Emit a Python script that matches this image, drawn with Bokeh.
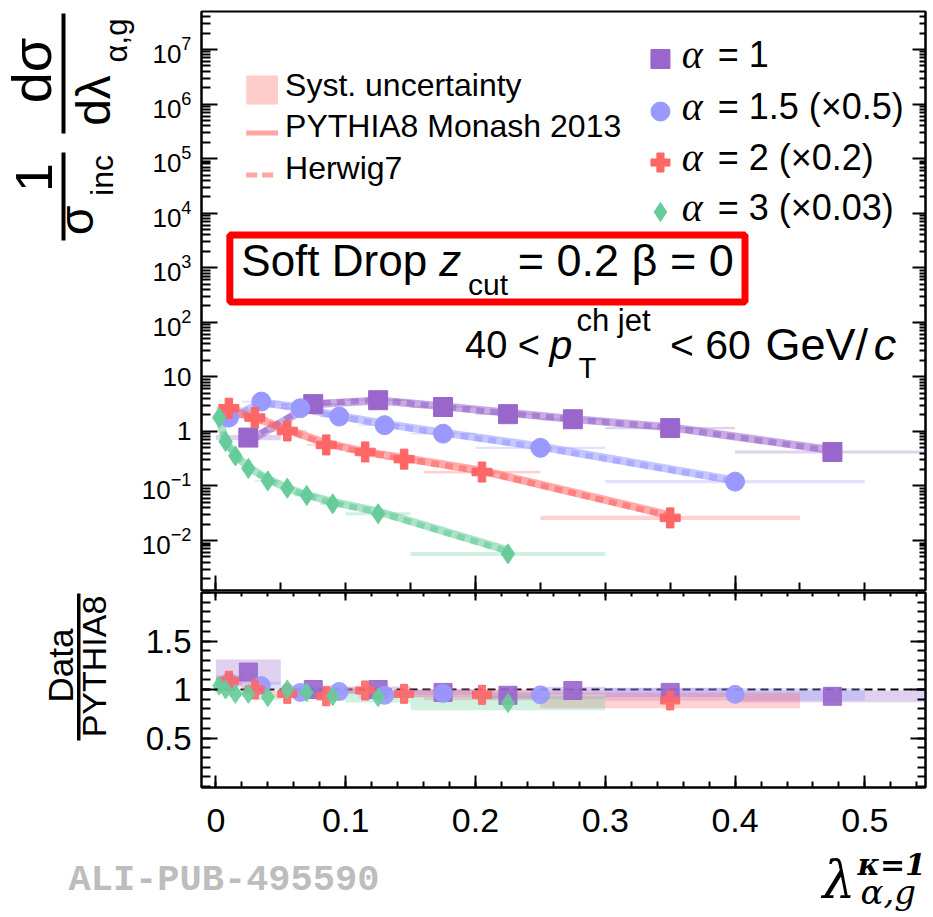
from bokeh.plotting import figure
from bokeh.models import (Range1d, LinearScale, FixedTicker, LinearAxis, LogAxis,
                          LogTickFormatter, CustomJSTickFormatter, Label, Span, BoxAnnotation)
from bokeh.layouts import column, row
from bokeh.embed import file_html
from bokeh.resources import INLINE

# ------------------------------------------------------------------ data
# alpha = 1
a1_x      = [0.025, 0.075, 0.125, 0.175, 0.225, 0.275, 0.35, 0.475]
a1_lo     = [0.00, 0.05, 0.10, 0.15, 0.20, 0.25, 0.30, 0.40]
a1_hi     = [0.05, 0.10, 0.15, 0.20, 0.25, 0.30, 0.40, 0.55]
a1_y      = [0.77, 3.16, 3.73, 2.80, 2.07, 1.67, 1.15, 0.42]
a1_syst   = [0.11, 0.04, 0.03, 0.03, 0.03, 0.04, 0.05, 0.065]
a1_pythia = [0.66, 3.15, 3.70, 2.88, 2.20, 1.69, 1.19, 0.45]
a1_herwig = [0.70, 3.25, 3.78, 2.83, 2.14, 1.67, 1.17, 0.44]
a1_ratio  = [1.18, 1.00, 1.00, 0.97, 0.94, 0.99, 0.97, 0.93]

# alpha = 1.5 (x0.5)
a15_x      = [0.01, 0.035, 0.065, 0.095, 0.13, 0.175, 0.25, 0.40]
a15_lo     = [0.00, 0.02, 0.05, 0.08, 0.11, 0.15, 0.20, 0.30]
a15_hi     = [0.02, 0.05, 0.08, 0.11, 0.15, 0.20, 0.30, 0.50]
a15_y      = [1.79, 3.52, 2.66, 1.87, 1.30, 0.91, 0.50, 0.12]
a15_syst   = [0.05, 0.04, 0.03, 0.03, 0.03, 0.04, 0.05, 0.07]
a15_pythia = [1.67, 3.38, 2.74, 1.91, 1.38, 0.95, 0.53, 0.126]
a15_herwig = [1.72, 3.30, 2.62, 1.85, 1.33, 0.92, 0.51, 0.122]
a15_ratio  = [1.075, 1.04, 0.97, 0.98, 0.94, 0.96, 0.945, 0.95]

# alpha = 2 (x0.2)
a2_x      = [0.01, 0.03, 0.055, 0.085, 0.115, 0.145, 0.205, 0.35]
a2_lo     = [0.00, 0.02, 0.04, 0.07, 0.10, 0.13, 0.16, 0.25]
a2_hi     = [0.02, 0.04, 0.07, 0.10, 0.13, 0.16, 0.25, 0.45]
a2_y      = [2.66, 1.79, 1.02, 0.565, 0.42, 0.31, 0.18, 0.026]
a2_syst   = [0.05, 0.04, 0.03, 0.03, 0.03, 0.04, 0.06, 0.09]
a2_pythia = [2.44, 1.79, 1.07, 0.61, 0.42, 0.325, 0.19, 0.029]
a2_herwig = [2.50, 1.74, 1.03, 0.59, 0.41, 0.315, 0.185, 0.028]
a2_ratio  = [1.09, 1.00, 0.955, 0.93, 0.99, 0.955, 0.945, 0.887]

# alpha = 3 (x0.03)
a3_x      = [0.0025, 0.0075, 0.015, 0.025, 0.04, 0.055, 0.07, 0.09, 0.125, 0.225]
a3_lo     = [0.000, 0.005, 0.01, 0.02, 0.03, 0.05, 0.06, 0.08, 0.10, 0.15]
a3_hi     = [0.005, 0.010, 0.02, 0.03, 0.05, 0.06, 0.08, 0.10, 0.15, 0.30]
a3_y      = [1.79, 0.65, 0.355, 0.21, 0.124, 0.091, 0.067, 0.047, 0.031, 0.0057]
a3_syst   = [0.04, 0.03, 0.03, 0.03, 0.03, 0.03, 0.04, 0.05, 0.06, 0.085]
a3_pythia = [1.72, 0.65, 0.37, 0.22, 0.135, 0.091, 0.069, 0.051, 0.034, 0.0066]
a3_herwig = [1.76, 0.66, 0.36, 0.215, 0.13, 0.089, 0.067, 0.049, 0.033, 0.0063]
a3_ratio  = [1.04, 1.00, 0.955, 0.955, 0.92, 1.00, 0.97, 0.93, 0.92, 0.86]

series_labels = ["= 1", "= 1.5 (×0.5)", "= 2 (×0.2)", "= 3 (×0.03)"]
model_labels = ["Syst. uncertainty", "PYTHIA8 Monash 2013", "Herwig7"]

x_ticks = [0.0, 0.1, 0.2, 0.3, 0.4, 0.5]
x_tick_labels = ["0", "0.1", "0.2", "0.3", "0.4", "0.5"]
ratio_ticks = [0.5, 1.0, 1.5]
ratio_tick_labels = ["0.5", "1", "1.5"]
ytop_ticks = [1e-2, 1e-1, 1.0, 10.0, 1e2, 1e3, 1e4, 1e5, 1e6, 1e7]
ytop_plain_labels = {1.0: "1", 10.0: "10"}   # the others are drawn as 10^n

# ------------------------------------------------------------------ styles / layout
C1, C15, C2, C3 = "#9966CC", "#9999FF", "#FF6666", "#66CC99"
FONT = "Liberation Sans"
W, H = 933, 917
LW = 138                      # left strip (y titles)
FL, FR = 197, 925             # frame left / right (page px)
TOPH = 848                    # height of the upper block (panels)
P1_H, P1_TOP, P1_BOT = 591, 11, 590
P2_TOP, P2_BOT = 592, 787
P2_H = TOPH - P1_H

series = [
    dict(x=a1_x, lo=a1_lo, hi=a1_hi, y=a1_y, s=a1_syst, py=a1_pythia, hw=a1_herwig, r=a1_ratio,
         color=C1, marker="square", size=19),
    dict(x=a15_x, lo=a15_lo, hi=a15_hi, y=a15_y, s=a15_syst, py=a15_pythia, hw=a15_herwig, r=a15_ratio,
         color=C15, marker="circle", size=19),
    dict(x=a2_x, lo=a2_lo, hi=a2_hi, y=a2_y, s=a2_syst, py=a2_pythia, hw=a2_herwig, r=a2_ratio,
         color=C2, marker="plus", size=20),
    dict(x=a3_x, lo=a3_lo, hi=a3_hi, y=a3_y, s=a3_syst, py=a3_pythia, hw=a3_herwig, r=a3_ratio,
         color=C3, marker="diamond", size=20),
]

X_RANGE = (-0.0111, 0.5467)


def make_axis(cls, ticker, major_in, minor_in, labels=True, size="26px", standoff=8,
              overrides=None, formatter=None):
    kw = dict(ticker=ticker, axis_line_width=2, axis_line_color="black",
              major_tick_in=major_in, major_tick_out=0, minor_tick_in=minor_in, minor_tick_out=0,
              major_tick_line_width=2, minor_tick_line_width=2,
              major_tick_line_color="black", minor_tick_line_color="black")
    if labels:
        kw.update(major_label_text_font=FONT, major_label_text_font_size=size,
                  major_label_standoff=standoff, major_label_text_color="black")
        if formatter is not None:
            kw["formatter"] = formatter
        if overrides:
            kw["major_label_overrides"] = overrides
    else:
        kw.update(formatter=CustomJSTickFormatter(code="return ''"),
                  major_label_text_font_size="1px", major_label_standoff=0)
    return cls(**kw)


def panel_fig(height, y_range, y_type, top, bottom, px_h):
    p = figure(width=W - LW, height=height, output_backend="svg", toolbar_location=None,
               x_range=Range1d(*X_RANGE), y_range=y_range, y_axis_type=y_type,
               x_axis_location=None, y_axis_location=None,
               min_border_left=FL - LW, min_border_right=W - FR,
               min_border_top=top, min_border_bottom=bottom)
    p.grid.visible = False
    p.outline_line_color = "black"
    p.outline_line_width = 2
    p.background_fill_color = "white"
    p.border_fill_color = "white"
    p.extra_x_ranges = {"px": Range1d(0, FR - FL)}
    p.extra_y_ranges = {"px": Range1d(0, px_h)}
    p.extra_x_scales = {"px": LinearScale()}
    p.extra_y_scales = {"px": LinearScale()}
    return p


def strip_fig(width, height):
    p = figure(width=width, height=height, output_backend="svg", toolbar_location=None,
               x_range=Range1d(0, width), y_range=Range1d(0, height),
               x_axis_location=None, y_axis_location=None, min_border=0)
    p.grid.visible = False
    p.outline_line_color = None
    p.background_fill_color = "white"
    p.border_fill_color = "white"
    return p


def txt(fig, ox, oy, text, cx, cy, size, font=FONT, style="normal", align="left",
        angle=0, color="black", rn="px"):
    """cx, cy: page position; cy is the vertical middle of the text line."""
    kw = dict(x_range_name=rn, y_range_name=rn) if rn else {}
    fig.add_layout(Label(x=cx - ox, y=oy - cy, text=text, text_font=font,
                         text_font_size=f"{size}px", text_font_style=style,
                         text_align=align, text_baseline="middle",
                         angle=angle, angle_units="deg", text_color=color, **kw))


def box(fig, ox, oy, cx0, cx1, cy0, cy1, color="black", alpha=1.0, line_color=None,
        line_width=1, rn="px"):
    kw = dict(x_range_name=rn, y_range_name=rn) if rn else {}
    fig.add_layout(BoxAnnotation(left=cx0 - ox, right=cx1 - ox, top=oy - cy0, bottom=oy - cy1,
                                 fill_color=color, fill_alpha=alpha,
                                 line_color=line_color, line_alpha=1.0, line_width=line_width,
                                 level="overlay", **kw))


# ------------------------------------------------------------------ top panel
p1 = panel_fig(P1_H, Range1d(10 ** -2.916, 10 ** 7.696), "log", P1_TOP, P1_H - P1_BOT,
               P1_BOT - P1_TOP)

ytop_minor = [m * 10.0 ** k for k in range(-3, 8) for m in range(2, 10)]
p1.add_layout(make_axis(LogAxis, FixedTicker(ticks=ytop_ticks, minor_ticks=ytop_minor), 16, 9,
                        size="26px", standoff=10, formatter=LogTickFormatter(),
                        overrides=ytop_plain_labels), "left")
p1.add_layout(make_axis(LogAxis, FixedTicker(ticks=ytop_ticks, minor_ticks=ytop_minor), 13, 6,
                        labels=False), "right")
p1.add_layout(make_axis(LinearAxis, FixedTicker(ticks=[0.0, 0.2, 0.4],
                                                minor_ticks=[0.05 * i for i in range(12)]),
                        15, 8, labels=False), "below")

for s in series:
    p1.quad(left=s["lo"], right=s["hi"],
            top=[v * (1 + e) for v, e in zip(s["y"], s["s"])],
            bottom=[v * (1 - e) for v, e in zip(s["y"], s["s"])],
            fill_color=s["color"], fill_alpha=0.3, line_color=None)
for s in series:
    p1.line(s["x"], s["py"], line_color=s["color"], line_width=8, line_alpha=0.55)
    p1.line(s["x"], s["hw"], line_color=s["color"], line_width=6, line_alpha=0.6,
            line_dash="8 6")
for s in series:
    p1.scatter(s["x"], s["y"], marker=s["marker"], size=s["size"],
               fill_color=s["color"], line_color=s["color"])

# legend (left): swatches + text
box(p1, FL, P1_BOT, 242, 274, 75, 104, color="#FFCCCC")
box(p1, FL, P1_BOT, 242, 274, 130, 135, color=C2, alpha=0.6)
box(p1, FL, P1_BOT, 242, 253, 172, 177, color=C2, alpha=0.6)
box(p1, FL, P1_BOT, 258, 269, 172, 177, color=C2, alpha=0.6)
for lab, yc in zip(model_labels, [84, 125, 167]):
    txt(p1, FL, P1_BOT, lab, 281, yc, 32)

# legend (right): markers + text
leg_rows = [58.5, 111, 162, 211.5]
for s, yc, lab, ty in zip(series, leg_rows, series_labels, [54, 106, 157, 207]):
    p1.scatter([658.5 - FL], [P1_BOT - yc], x_range_name="px", y_range_name="px",
               marker=s["marker"], size=19, fill_color=s["color"], line_color=s["color"])
    txt(p1, FL, P1_BOT, "α", 680, ty, 40, font="Liberation Serif", style="italic")
    txt(p1, FL, P1_BOT, lab, 716, ty, 36)

# Soft drop box
box(p1, FL, P1_BOT, 225.5, 743.5, 234.5, 301.5, color=None, alpha=0, line_color="#FF0000",
    line_width=7)
txt(p1, FL, P1_BOT, "Soft Drop", 237, 260, 44)
txt(p1, FL, P1_BOT, "z", 436, 260, 44, style="italic")
txt(p1, FL, P1_BOT, "cut", 465, 284, 30)
txt(p1, FL, P1_BOT, "= 0.2 β = 0", 515, 260, 45)

# pT range text
txt(p1, FL, P1_BOT, "40 <", 462, 344, 38)
txt(p1, FL, P1_BOT, "p", 547, 344, 41, style="italic")
txt(p1, FL, P1_BOT, "ch jet", 574, 320, 31)
txt(p1, FL, P1_BOT, "T", 576, 367, 29)
txt(p1, FL, P1_BOT, "< 60", 668, 344, 41)
txt(p1, FL, P1_BOT, "GeV/", 764, 344, 45)
txt(p1, FL, P1_BOT, "c", 873, 344, 45, style="italic")

# ------------------------------------------------------------------ ratio panel
p2 = panel_fig(P2_H, Range1d(1 - (P2_BOT - 689) / 97.0, 1 + (689 - P2_TOP) / 97.0), "linear",
               1, TOPH - P2_BOT, P2_BOT - P2_TOP)

x_minor = [round(0.02 * i, 2) for i in range(28)]
r_minor = [round(0.1 * i, 1) for i in range(21)]
p2.add_layout(make_axis(LinearAxis, FixedTicker(ticks=ratio_ticks, minor_ticks=r_minor), 16, 9,
                        size="33px", standoff=10,
                        overrides=dict(zip(ratio_ticks, ratio_tick_labels))), "left")
p2.add_layout(make_axis(LinearAxis, FixedTicker(ticks=ratio_ticks, minor_ticks=r_minor), 15, 8,
                        labels=False), "right")
p2.add_layout(make_axis(LinearAxis, FixedTicker(ticks=x_ticks, minor_ticks=x_minor), 12, 6,
                        size="34px", standoff=21,
                        overrides=dict(zip(x_ticks, x_tick_labels))), "below")
p2.add_layout(make_axis(LinearAxis, FixedTicker(ticks=x_ticks, minor_ticks=x_minor), 8, 4,
                        labels=False), "above")

for s in series:
    p2.quad(left=s["lo"], right=s["hi"],
            top=[v * (1 + e) for v, e in zip(s["r"], s["s"])],
            bottom=[v * (1 - e) for v, e in zip(s["r"], s["s"])],
            fill_color=s["color"], fill_alpha=0.3, line_color=None)
p2.add_layout(Span(location=1.0, dimension="width", line_color="black", line_width=2,
                   line_dash="8 5", level="underlay"))
for s in series:
    p2.scatter(s["x"], s["r"], marker=s["marker"], size=s["size"] - 1,
               fill_color=s["color"], line_color=s["color"], alpha=0.9)

# ------------------------------------------------------------------ left strip: y titles
left = strip_fig(LW, TOPH)
# 1/sigma_inc
txt(left, 0, TOPH, "1", 33, 177, 52, align="center", angle=90, rn=None)
txt(left, 0, TOPH, "σ", 76, 220, 48, align="center", angle=90, rn=None)
txt(left, 0, TOPH, "inc", 101, 175, 32, align="center", angle=90, rn=None)
box(left, 0, TOPH, 61, 65, 152, 240, rn=None)
# dsigma / dlambda
txt(left, 0, TOPH, "dσ", 31, 70, 56, align="center", angle=90, rn=None)
txt(left, 0, TOPH, "dλ", 93, 100, 48, align="center", angle=90, rn=None)
txt(left, 0, TOPH, "α,g", 116, 40, 31, align="center", angle=90, rn=None)
box(left, 0, TOPH, 61, 65, 13, 133, rn=None)
# Data / PYTHIA8
txt(left, 0, TOPH, "Data", 60, 665, 35, align="center", angle=90, rn=None)
box(left, 0, TOPH, 76.5, 80, 593, 740, rn=None)
txt(left, 0, TOPH, "PYTHIA8", 93, 666, 34, align="center", angle=90, rn=None)

# ------------------------------------------------------------------ bottom strip: x title
bottom = strip_fig(W, H - TOPH)
txt(bottom, 0, H, "λ", 822, 879, 52, font="DejaVu Serif", style="italic", rn=None)
txt(bottom, 0, H, "κ=1", 857, 864, 30, font="DejaVu Serif", style="bold italic", rn=None)
txt(bottom, 0, H, "α,g", 860, 891, 34, font="DejaVu Serif", style="italic", rn=None)
txt(bottom, 0, H, "ALI-PUB-495590", 68, 879, 37, font="Liberation Mono", style="bold",
    color="#BDBDBD", rn=None)

layout = column(row(left, column(p1, p2, spacing=0), spacing=0), bottom, spacing=0)
open("out.html", "w").write(file_html(layout, INLINE))
